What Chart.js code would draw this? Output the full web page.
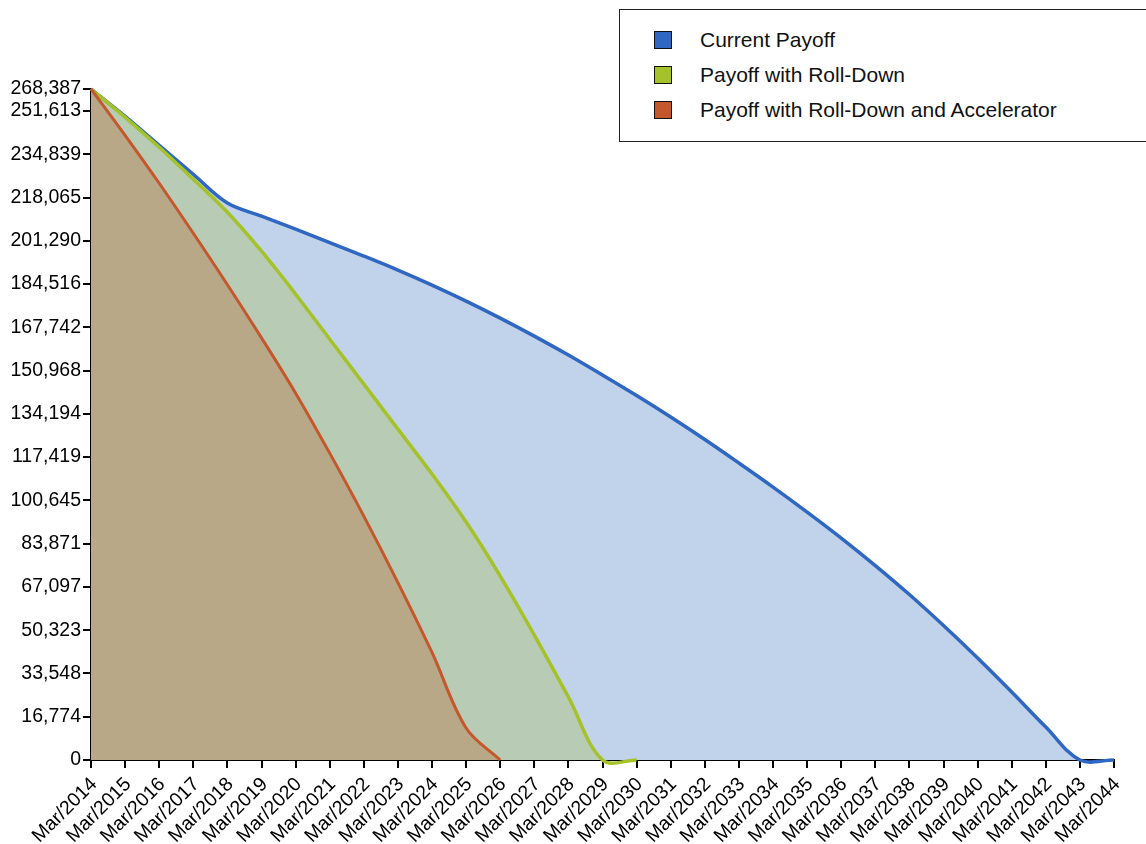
<!DOCTYPE html>
<html>
<head>
<meta charset="utf-8">
<script src="https://cdn.jsdelivr.net/npm/chart.js@4/dist/chart.umd.min.js"></script>
<style>
html,body{margin:0;padding:0;background:#fff;}
#wrap{position:relative;width:1146px;height:844px;overflow:hidden;}
#legend{position:absolute;left:619px;top:8.5px;width:600px;height:133px;border:1px solid #222;box-sizing:border-box;background:#fff;
  font-family:"Liberation Sans",Arial,Helvetica,sans-serif;font-size:21px;color:#111;}
.item{position:absolute;left:34px;height:18px;}
.sw{position:absolute;left:0;top:0;width:16px;height:16px;border:1px solid #111;}
.lbl{position:absolute;left:46px;top:-3px;line-height:24px;white-space:nowrap;}
</style>
</head>
<body>
<div id="wrap">
  <canvas id="c" width="1146" height="844"></canvas>
  <div id="legend"></div>
</div>
<script>
// ---- data ----
const categories = ['Mar/2014','Mar/2015','Mar/2016','Mar/2017','Mar/2018','Mar/2019','Mar/2020','Mar/2021',
  'Mar/2022','Mar/2023','Mar/2024','Mar/2025','Mar/2026','Mar/2027','Mar/2028','Mar/2029','Mar/2030',
  'Mar/2031','Mar/2032','Mar/2033','Mar/2034','Mar/2035','Mar/2036','Mar/2037','Mar/2038','Mar/2039',
  'Mar/2040','Mar/2041','Mar/2042','Mar/2043','Mar/2044'];

const seriesNames = ['Current Payoff','Payoff with Roll-Down','Payoff with Roll-Down and Accelerator'];

const currentPayoff = [260130, 249550, 238310, 227070, 215900, 210860, 205820, 200580, 195350, 189920,
  184110, 177910, 171320, 164340, 156980, 149230, 141280, 132950, 124230, 115120, 105810, 96120, 86050,
  75390, 64150, 52130, 39540, 26360, 12790, 0, 0];

const rollDownPayoff = [260130, 249160, 237540, 225140, 212350, 197240, 180580, 163140, 145700, 128260,
  110830, 92230, 71300, 48440, 24410, 0, 0];

const acceleratorPayoff = [260130, 242190, 223590, 204210, 184260, 163640, 142210, 118960, 94550, 68780,
  41700, 12400, 0];

const yTickLabels = ['0','16,774','33,548','50,323','67,097','83,871','100,645','117,419','134,194',
  '150,968','167,742','184,516','201,290','218,065','234,839','251,613','268,387'];

// ---- styling ----
const lineColors = ['#2f67c2', '#a5c229', '#c4582c'];
const areaColors = ['#c1d3ea', '#b8ccb5', '#b8a888'];
const FONT = '"Liberation Sans", Arial, Helvetica, sans-serif';

const yTop = Math.max(...currentPayoff, ...rollDownPayoff, ...acceleratorPayoff);
const yTickValues = yTickLabels.map((s, i) =>
  i === yTickLabels.length - 1 ? yTop : Number(s.replace(/,/g, '')));

const seriesData = [currentPayoff, rollDownPayoff, acceleratorPayoff];
const datasets = seriesData.map((d, i) => ({
  label: seriesNames[i],
  data: d,
  borderColor: lineColors[i],
  backgroundColor: areaColors[i],
  borderWidth: i === 2 ? 3 : 3.5,
  fill: 'origin',
  order: 3 - i,
  clip: false,
  pointRadius: 0,
  tension: 0.35,
  capBezierPoints: false
}));

const axisGrid = { drawOnChartArea: false, drawTicks: true, color: '#000', lineWidth: 2, tickLength: 8 };
const axisBorder = { color: '#000', width: 2 };

const chart = new Chart(document.getElementById('c'), {
  type: 'line',
  data: { labels: categories, datasets: datasets },
  options: {
    responsive: false,
    animation: false,
    devicePixelRatio: 1,
    layout: { padding: { left: 0, right: 32, top: 89, bottom: 0 } },
    plugins: {
      legend: { display: false },
      tooltip: { enabled: false },
      filler: { drawTime: 'beforeDatasetsDraw' }
    },
    scales: {
      x: {
        type: 'category',
        offset: false,
        grid: axisGrid,
        border: axisBorder,
        ticks: { autoSkip: false, maxRotation: 45, minRotation: 45, color: '#000', padding: 5, labelOffset: 3,
                 font: { family: FONT, size: 19.5 } },
        afterFit(s) { s.height = 84; }
      },
      y: {
        min: 0,
        max: yTop,
        grid: axisGrid,
        border: axisBorder,
        ticks: {
          color: '#000', padding: 2, font: { family: FONT, size: 19.5 },
          callback(v, idx) { return yTickLabels[idx]; }
        },
        afterBuildTicks(s) { s.ticks = yTickValues.map(v => ({ value: v })); },
        afterFit(s) { s.width = 91; }
      }
    }
  }
});

// ---- HTML legend built from the datasets ----
const leg = document.getElementById('legend');
chart.data.datasets.forEach((ds, i) => {
  const it = document.createElement('div');
  it.className = 'item';
  it.style.top = (21 + i * 35) + 'px';
  const sw = document.createElement('div');
  sw.className = 'sw';
  sw.style.background = ds.borderColor;
  const lb = document.createElement('div');
  lb.className = 'lbl';
  lb.textContent = ds.label;
  it.appendChild(sw); it.appendChild(lb);
  leg.appendChild(it);
});
</script>
</body>
</html>
